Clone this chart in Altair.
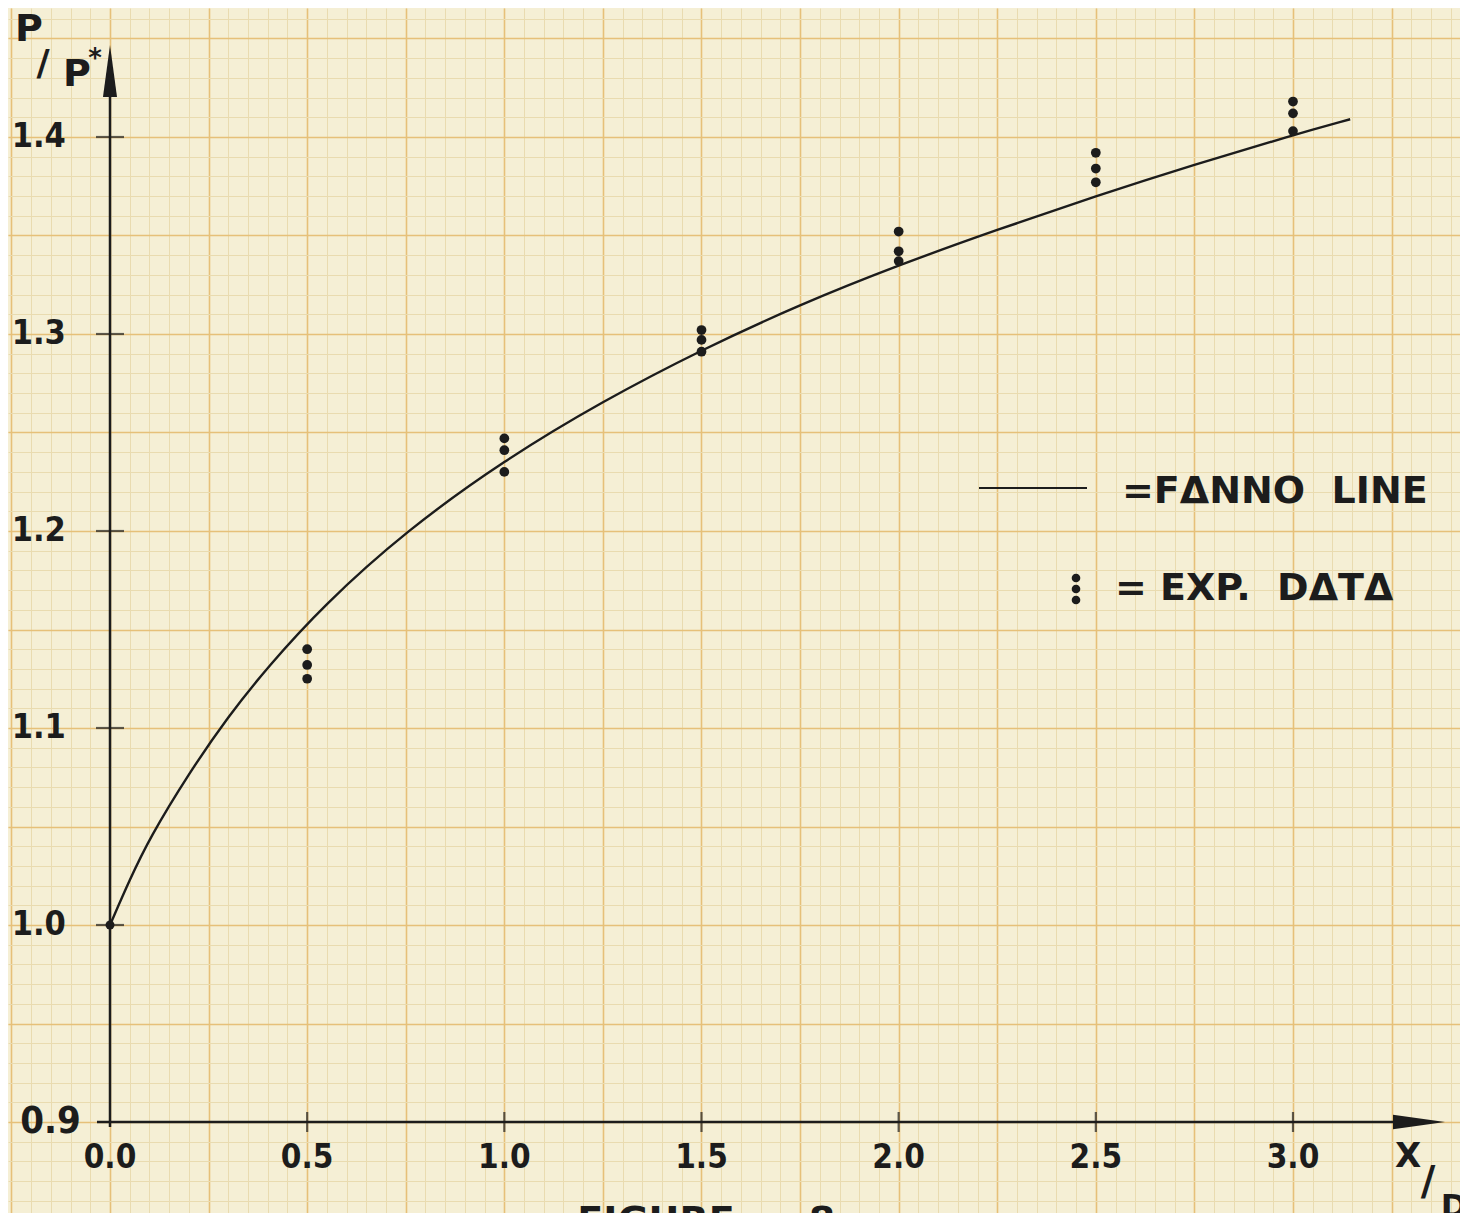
import altair as alt
import pandas as pd
import numpy as np

# ---- data ----
fanno_x = [0.0, 0.05, 0.1, 0.2, 0.3, 0.4, 0.54, 0.75, 1.0, 1.25, 1.5, 1.75, 2.0, 2.25, 2.5, 2.75, 3.0, 3.145]
fanno_y = [1.0, 1.023, 1.044, 1.077, 1.106, 1.131, 1.162, 1.200, 1.236, 1.266, 1.292, 1.315, 1.335, 1.353,
           1.370, 1.386, 1.401, 1.409]

exp_x = [0.5, 0.5, 0.5, 1.0, 1.0, 1.0, 1.5, 1.5, 1.5, 2.0, 2.0, 2.0, 2.5, 2.5, 2.5, 3.0, 3.0, 3.0]
exp_y = [1.140, 1.132, 1.125, 1.247, 1.241, 1.230, 1.302, 1.297, 1.291,
         1.352, 1.342, 1.337, 1.392, 1.384, 1.377, 1.418, 1.412, 1.403]

x_tick_vals = [0.0, 0.5, 1.0, 1.5, 2.0, 2.5, 3.0]
x_tick_labels = ["0.0", "0.5", "1.0", "1.5", "2.0", "2.5", "3.0"]
y_tick_vals = [1.0, 1.1, 1.2, 1.3, 1.4]
y_tick_labels = ["1.0", "1.1", "1.2", "1.3", "1.4"]

# ---- styling ----
PAPER = "#f5efd5"
MINOR = "#e9dbb0"
MAJOR = "#e6c079"
INK = "#1c1c1c"
NUMFONT = "DejaVu Sans Condensed, DejaVu Sans, sans-serif"
LETFONT = "DejaVu Sans, sans-serif"
NB = "\u00a0"

W, H = 1452, 1205
XDOM = [-0.25867, 3.42353]
YDOM = [0.85381, 1.46548]
xs = alt.Scale(domain=XDOM, nice=False, zero=False)
ys = alt.Scale(domain=YDOM, nice=False, zero=False)

minor_x = [round(v, 2) for v in np.arange(-0.25, 3.45, 0.05)]
major_x = [round(v, 2) for v in np.arange(-0.25, 3.45, 0.25)]
minor_y = [round(v, 2) for v in np.arange(0.86, 1.47, 0.01)]
major_y = [round(v, 2) for v in np.arange(0.85, 1.47, 0.05)]


def grid_axis(values, color, width, orient):
    return alt.Axis(values=values, grid=True, gridColor=color, gridWidth=width,
                    gridOpacity=1, labels=False, ticks=False, domain=False,
                    title=None, orient=orient)


def XD(v):
    return alt.XDatum(v, scale=xs, axis=None)


def YD(v):
    return alt.YDatum(v, scale=ys, axis=None)


fanno_df = pd.DataFrame({"x": fanno_x, "y": fanno_y})
exp_df = pd.DataFrame({"x": exp_x, "y": exp_y})

fanno = alt.Chart(fanno_df).mark_line(color=INK, strokeWidth=2.4, interpolate="basis").encode(
    x=alt.X("x:Q", scale=xs, axis=grid_axis(minor_x, MINOR, 1, "bottom")),
    y=alt.Y("y:Q", scale=ys, axis=grid_axis(minor_y, MINOR, 1, "left")),
)

exp_pts = alt.Chart(exp_df).mark_circle(color=INK, size=95, opacity=1).encode(
    x=alt.X("x:Q", scale=xs, axis=grid_axis(major_x, MAJOR, 1.6, "top")),
    y=alt.Y("y:Q", scale=ys, axis=grid_axis(major_y, MAJOR, 1.6, "right")),
)

one = pd.DataFrame({"a": [0]})

# axis lines
x_axis_line = alt.Chart(one).mark_rule(color=INK, strokeWidth=2.5).encode(
    x=XD(-0.033), x2=alt.datum(3.33), y=YD(0.9))
y_axis_line = alt.Chart(one).mark_rule(color=INK, strokeWidth=2.5).encode(
    y=YD(0.8975), y2=alt.datum(1.43), x=XD(0.0))

arrow_up = alt.Chart(one).mark_point(shape="M0,-1L0.27,1L-0.27,1Z", filled=True, size=2704,
                                     color=INK, opacity=1, strokeWidth=0).encode(
    x=XD(0.0), y=YD(1.4335))
arrow_right = alt.Chart(one).mark_point(shape="M1,0L-1,-0.28L-1,0.28Z", filled=True, size=2704,
                                        color=INK, opacity=1, strokeWidth=0).encode(
    x=XD(3.3195), y=YD(0.9))

origin_pt = alt.Chart(one).mark_circle(color=INK, size=80, opacity=1).encode(
    x=XD(0.0), y=YD(1.0))

# tick marks crossing the axes
xt_df = pd.DataFrame({"x": x_tick_vals[1:], "y": [0.9] * (len(x_tick_vals) - 1)})
yt_df = pd.DataFrame({"x": [0.0] * len(y_tick_vals), "y": y_tick_vals})

x_ticks = alt.Chart(xt_df).mark_tick(color=INK, thickness=2.2, size=20, orient="vertical").encode(
    x=alt.X("x:Q", scale=xs, axis=None), y=alt.Y("y:Q", scale=ys, axis=None))
y_ticks = alt.Chart(yt_df).mark_tick(color=INK, thickness=2.2, size=28, orient="horizontal").encode(
    x=alt.X("x:Q", scale=xs, axis=None), y=alt.Y("y:Q", scale=ys, axis=None))

# tick labels
xl_df = pd.DataFrame({"x": x_tick_vals, "lab": x_tick_labels})
x_labels = alt.Chart(xl_df).mark_text(font=NUMFONT, fontSize=33, fontWeight="bold", color=INK,
                                      align="center", baseline="middle").encode(
    x=alt.X("x:Q", scale=xs, axis=None), y=YD(0.8817), text="lab:N")

yl_df = pd.DataFrame({"y": y_tick_vals, "lab": y_tick_labels})
y_labels = alt.Chart(yl_df).mark_text(font=NUMFONT, fontSize=34, fontWeight="bold", color=INK,
                                      align="right", baseline="middle").encode(
    y=alt.Y("y:Q", scale=ys, axis=None), x=XD(-0.112), text="lab:N")

y09_label = alt.Chart(one).mark_text(text="0.9", font=NUMFONT, fontSize=38, fontWeight="bold", color=INK,
                                     align="right", baseline="middle").encode(
    x=XD(-0.074), y=YD(0.9))


def note(text, px, py, size, font=LETFONT, align="center", baseline="middle", weight="bold", angle=0):
    return alt.Chart(one).mark_text(text=text, font=font, fontSize=size, fontWeight=weight, color=INK,
                                    align=align, baseline=baseline, angle=angle).encode(
        x=alt.value(px - 8), y=alt.value(py - 8))


notes = [
    note("P", 29, 30, 38),
    note("/", 43, 64, 36),
    note("P", 77, 75, 38),
    note("*", 95, 59, 26),
    note("X", 1408, 1157, 34),
    note("/", 1428, 1183, 40),
    note("D", 1454, 1207, 32),
    note("FIGURE", 656, 1222, 38),
    note("8", 822, 1222, 38),
    note("=FΔNNO" + NB + NB + "LINE", 1122, 492, 38, align="left"),
    note("=" + NB + "EXP." + NB + NB + "DΔTΔ", 1115, 589, 38, align="left"),
]

legend_line = alt.Chart(one).mark_rule(color=INK, strokeWidth=2.2).encode(
    x=alt.value(979 - 8), x2=alt.value(1087 - 8), y=alt.value(488 - 8))
legend_dots = [
    alt.Chart(one).mark_circle(color=INK, size=75, opacity=1).encode(
        x=alt.value(1076 - 8), y=alt.value(py - 8))
    for py in (578, 589, 600)
]

chart = alt.layer(
    fanno, exp_pts, x_axis_line, y_axis_line, arrow_up, arrow_right, origin_pt,
    x_ticks, y_ticks, x_labels, y_labels, y09_label, legend_line, *legend_dots, *notes
).resolve_axis(x="independent", y="independent").properties(
    width=W, height=H, autosize=alt.AutoSizeParams(type="none"), padding=0, background=PAPER
).configure_view(fill=PAPER, stroke=None)

chart.save("out.html", embed_options={"renderer": "svg", "actions": False})
